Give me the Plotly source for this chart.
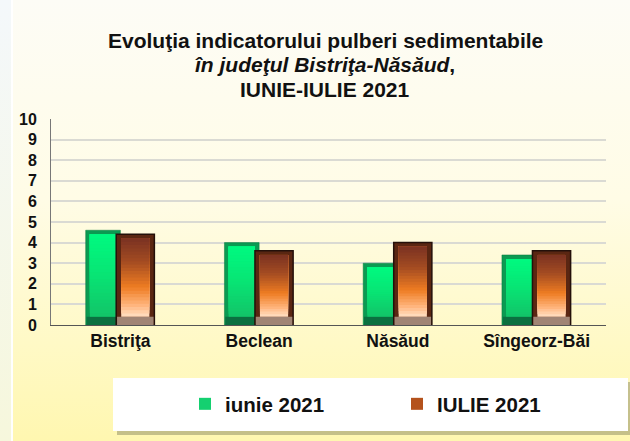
import base64
import plotly.graph_objects as go

# date
localitati = ['Bistriţa', 'Beclean', 'Năsăud', 'Sîngeorz-Băi']
iunie_2021 = [4.6, 4.0, 3.0, 3.4]
iulie_2021 = [4.4, 3.6, 4.0, 3.6]
y_ticks = list(range(0, 11))
titlu = ['<b>Evoluţia indicatorului pulberi sedimentabile</b>',
         '<b><i>în judeţul Bistriţa-Năsăud</i>,</b>',
         '<b>IUNIE-IULIE 2021</b>']

W, H = 630, 441
L, R, T, B = 51, 24, 119, 116
pw, ph = W - L - R, H - T - B

# fundal cu gradient (svg inline, fara retea)
svg = """<svg xmlns='http://www.w3.org/2000/svg' width='630' height='441'>
<defs><linearGradient id='g' x1='0' y1='0' x2='0' y2='1'>
<stop offset='0' stop-color='#fdfcf6'/><stop offset='0.45' stop-color='#fffce6'/>
<stop offset='1' stop-color='#fff7b0'/></linearGradient>
<linearGradient id='s' x1='0' y1='0' x2='0' y2='1'>
<stop offset='0' stop-color='#f4f8fb'/><stop offset='1' stop-color='#f6f7dc'/></linearGradient></defs>
<rect width='630' height='441' fill='url(#g)'/>
<rect width='11' height='441' fill='url(#s)'/>
<rect x='11' width='2' height='441' fill='#ffffff'/>
</svg>"""
bg_src = 'data:image/svg+xml;base64,' + base64.b64encode(svg.encode()).decode()


def px_x(x):
    return (x - L) / pw


def px_y(y):
    return (H - B - y) / ph


def hex2rgb(h):
    return [int(h[i:i + 2], 16) for i in (1, 3, 5)]


def culoare(stops, t):
    # interpolare liniara intre opriri (sus -> jos)
    for (t0, c0), (t1, c1) in zip(stops, stops[1:]):
        if t0 <= t <= t1:
            f = (t - t0) / (t1 - t0)
            a, b = hex2rgb(c0), hex2rgb(c1)
            return 'rgb(%d,%d,%d)' % tuple(round(a[i] + (b[i] - a[i]) * f) for i in range(3))
    return stops[-1][1]


N = 24
jos, sus = 0.4, 0.2     # tesitura jos / sus (unitati de axa)
serii = [
    dict(nume='iunie 2021', val=iunie_2021, offset=-0.25, width=0.25, inset=0.03,
         lat='#0b9a52', baza='#0b7040', contur=dict(color='#0b7a3d', width=0.5),
         grad=[(0, '#00fa80'), (0.5, '#08e474'), (1, '#12c468')], leg='#14d070'),
    dict(nume='IULIE 2021', val=iulie_2021, offset=-0.03, width=0.275, inset=0.036,
         lat='#5a2612', baza='#a08474', contur=dict(color='#24100a', width=1.5),
         grad=[(0, '#7a3222'), (0.3, '#a44c22'), (0.62, '#ee7c22'), (0.85, '#ffb47c'), (1, '#ffe0c4')],
         leg='#b4521c'),
]

fig = go.Figure()
for s in serii:
    # corpul barei (marginile laterale)
    fig.add_trace(go.Bar(x=localitati, y=s['val'], offset=s['offset'], width=s['width'],
                         marker=dict(color=s['lat'], line=s['contur']), showlegend=False,
                         hoverinfo='skip'))
    # tesitura de jos
    fig.add_trace(go.Bar(x=localitati, y=[jos] * len(localitati), offset=s['offset'] + 0.006,
                         width=s['width'] - 0.012, marker=dict(color=s['baza'], line=dict(width=0)),
                         showlegend=False, hoverinfo='skip'))
    # fata barei, in gradient: fiecare strat merge pana sus, de jos in sus
    for k in range(N):
        pas = [(v - sus - jos) / N for v in s['val']]
        baze = [jos + k * p for p in pas]
        fig.add_trace(go.Bar(
            x=localitati, y=[v - sus - b for v, b in zip(s['val'], baze)], base=baze,
            offset=s['offset'] + s['inset'], width=s['width'] - 2 * s['inset'],
            marker=dict(color=culoare(s['grad'], 1 - (k + 0.5) / N), line=dict(width=0)),
            showlegend=False, hoverinfo='skip'))
    # intrare in legenda
    fig.add_trace(go.Bar(x=localitati, y=[None] * len(localitati), name=s['nume'],
                         marker=dict(color=s['leg'], line=dict(width=0))))

annotations = []
for linie, yc in zip(titlu, [41, 65, 89]):
    annotations.append(dict(
        text=linie, xref='paper', yref='paper', x=px_x(325), y=px_y(yc),
        xanchor='center', yanchor='middle', showarrow=False,
        font=dict(size=21, color='#111111'),
    ))

fig.update_layout(
    width=W, height=H,
    margin=dict(l=L, r=R, t=T, b=B),
    paper_bgcolor='rgba(0,0,0,0)',
    plot_bgcolor='rgba(0,0,0,0)',
    font=dict(family='Liberation Sans, Arial', color='#111111'),
    barmode='overlay',
    annotations=annotations,
    xaxis=dict(
        showgrid=False, showline=True, linecolor='#555555', linewidth=1, automargin=False,
        ticks='', tickfont=dict(size=17.5, color='#111111', weight='bold'),
    ),
    yaxis=dict(
        range=[0, 10], tickvals=y_ticks, showgrid=True, gridcolor='#dadad3', gridwidth=2,
        showline=True, linecolor='#777777', linewidth=1, zeroline=False, automargin=False,
        tickfont=dict(size=16, color='#111111', weight='bold'), ticklabelstandoff=10,
    ),
    legend=dict(
        orientation='h', xref='container', yref='container',
        x=185 / W, xanchor='left', y=(H - 404) / H, yanchor='middle',
        bgcolor='rgba(0,0,0,0)', font=dict(size=20.5, color='#111111', weight='bold'),
        itemwidth=30, entrywidth=167, traceorder='normal', itemclick=False,
    ),
    images=[dict(source=bg_src, xref='paper', yref='paper', x=px_x(0), y=px_y(0),
                 sizex=W / pw, sizey=H / ph, xanchor='left', yanchor='top',
                 sizing='stretch', layer='below')],
    shapes=[
        dict(type='rect', xref='paper', yref='paper', x0=px_x(117), x1=px_x(634),
             y0=px_y(435), y1=px_y(382),
             fillcolor='rgba(90,90,60,0.35)', line=dict(width=0), layer='below'),
        dict(type='rect', xref='paper', yref='paper', x0=px_x(113), x1=px_x(628),
             y0=px_y(431), y1=px_y(378),
             fillcolor='#ffffff', line=dict(width=0), layer='below'),
    ],
)

# fara marginea implicita a paginii si fara bara de instrumente
fig.write_html('out.html', config={'displayModeBar': False},
               post_script="document.body.style.margin='0';")
